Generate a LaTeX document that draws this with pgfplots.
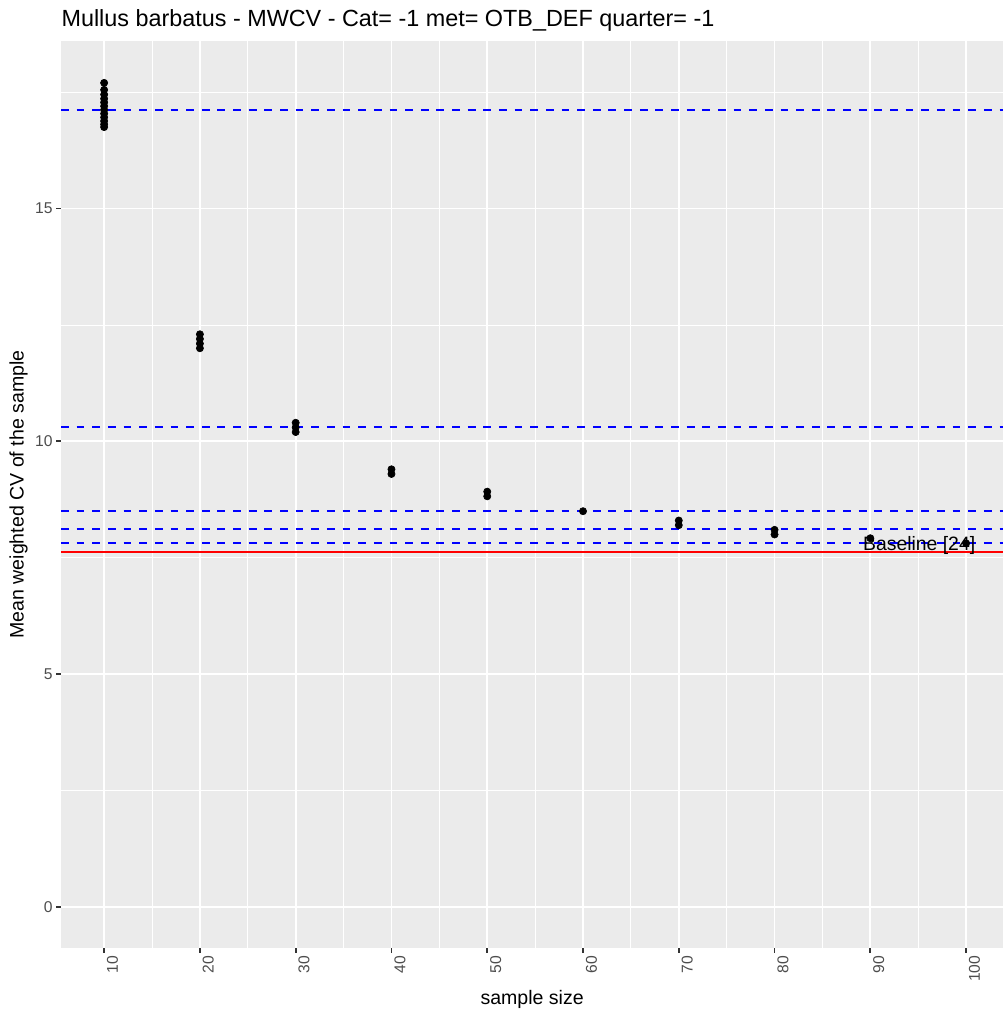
\documentclass[border=0pt]{standalone}
\usepackage{pgfplots}
\pgfplotsset{compat=1.18}
\usepackage{fontspec}
\setmainfont{Liberation Sans}
\definecolor{panelbg}{HTML}{EBEBEB}
\definecolor{tickcol}{HTML}{4D4D4D}
\definecolor{tickmark}{HTML}{333333}
\begin{document}
\begin{tikzpicture}[x=1pt,y=1pt]
\useasboundingbox (0,0) rectangle (590,597.6);
\begin{axis}[
  at={(35.9pt,39.9pt)}, anchor=south west,
  scale only axis, width=554.1pt, height=533.6pt,
  xmin=5.5, xmax=103.86, ymin=-0.885, ymax=18.6,
  axis line style={draw=none},
  axis background/.style={fill=panelbg},
  xtick={10,20,30,40,50,60,70,80,90,100},
  minor xtick={15,25,35,45,55,65,75,85,95},
  ytick={0,5,10,15},
  minor ytick={2.5,7.5,12.5,17.5},
  grid=both,
  major grid style={white, line width=1.07pt},
  minor grid style={white, line width=0.53pt},
  tick align=outside,
  major tick length=2.75pt,
  minor tick length=0pt,
  tick style={tickmark, line width=1.07pt},
  xtick pos=bottom, ytick pos=left,
  /pgf/number format/assume math mode=true,
  ticklabel style={font=\fontsize{9.2}{11}\selectfont, text=tickcol},
  xticklabel style={rotate=90, anchor=north east, inner sep=1.5pt},
  yticklabel style={inner sep=2pt},
  clip=false,
]
\addplot[blue, dash pattern=on 4.6pt off 4.6pt, line width=1.07pt] coordinates {(5.5,17.12) (103.86,17.12)};
\addplot[blue, dash pattern=on 4.6pt off 4.6pt, line width=1.07pt] coordinates {(5.5,10.30) (103.86,10.30)};
\addplot[blue, dash pattern=on 4.6pt off 4.6pt, line width=1.07pt] coordinates {(5.5,8.50) (103.86,8.50)};
\addplot[blue, dash pattern=on 4.6pt off 4.6pt, line width=1.07pt] coordinates {(5.5,8.11) (103.86,8.11)};
\addplot[blue, dash pattern=on 4.6pt off 4.6pt, line width=1.07pt] coordinates {(5.5,7.81) (103.86,7.81)};
\addplot[red, line width=1.07pt] coordinates {(5.5,7.62) (103.86,7.62)};
\addplot[only marks, mark=*, mark size=2.1pt, black] coordinates {
(10,17.70) (10,17.55) (10,17.45) (10,17.36) (10,17.28) (10,17.20) (10,17.12) (10,17.04) (10,16.96) (10,16.88) (10,16.81) (10,16.75)
(20,12.30) (20,12.20) (20,12.10) (20,12.00)
(30,10.40) (30,10.30) (30,10.20)
(40,9.40) (40,9.30)
(50,8.92) (50,8.82)
(60,8.50)
(70,8.30) (70,8.20)
(80,8.10) (80,8.00)
(90,7.92)
(100,7.81)
};
\node[font=\fontsize{11.4}{13}\selectfont, text=black, inner sep=0pt] at (axis cs:95.1,7.77) {Baseline [24]};
\end{axis}
\node[anchor=base west, inner sep=0pt, font=\fontsize{13.75}{16}\selectfont] at (36,581.9) {Mullus barbatus - MWCV - Cat= -1 met= OTB\_DEF quarter= -1};
\node[anchor=base, inner sep=0pt, rotate=90, font=\fontsize{11.5}{13}\selectfont] at (13.9,306.7) {Mean weighted CV of the sample};
\node[anchor=base, inner sep=0pt, font=\fontsize{11.5}{13}\selectfont] at (313,6.5) {sample size};
\end{tikzpicture}
\end{document}
